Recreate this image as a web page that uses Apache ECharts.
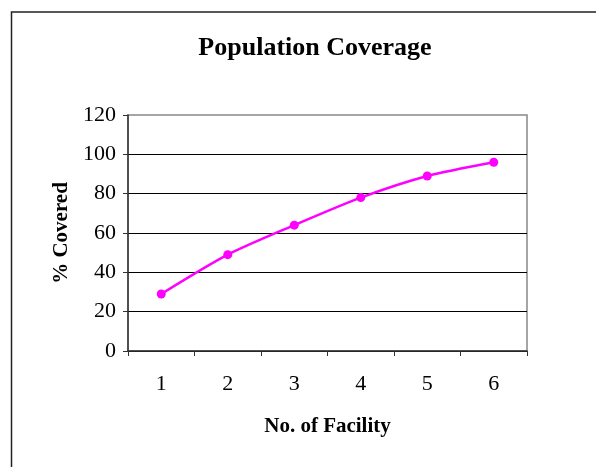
<!DOCTYPE html>
<html>
<head>
<meta charset="utf-8">
<script src="https://cdn.jsdelivr.net/npm/echarts@6/dist/echarts.min.js"></script>
<style>html,body{margin:0;padding:0;background:#fff;}#c{width:596px;height:467px;}</style>
</head>
<body>
<div id="c"></div>
<script>
const categories = ['1', '2', '3', '4', '5', '6'];
const covered = [29, 49, 64, 78, 89, 96];
const titleText = 'Population Coverage';
const xName = 'No. of Facility';
const yName = '% Covered';

const chart = echarts.init(document.getElementById('c'));
const serif = '"Liberation Serif", "Times New Roman", serif';
chart.setOption({
  animation: false,
  backgroundColor: '#fff',
  title: {
    text: titleText, left: 310, textAlign: 'center', top: 30,
    textStyle: { fontFamily: serif, fontWeight: 'bold', fontSize: 26, color: '#000' }
  },
  graphic: [{
    type: 'rect', shape: { x: 11.5, y: 12, width: 700, height: 600 },
    style: { fill: 'none', stroke: '#222', lineWidth: 1.5 }, silent: true
  }],
  grid: { left: 128, right: 69, top: 115, bottom: 116, show: true, borderColor: '#888', borderWidth: 1.5, backgroundColor: '#fff' },
  xAxis: {
    type: 'category', data: categories, boundaryGap: true,
    name: xName, nameLocation: 'middle', nameGap: 65,
    nameTextStyle: { fontFamily: serif, fontWeight: 'bold', fontSize: 21, color: '#000' },
    axisLine: { lineStyle: { color: '#333', width: 1.5 } },
    axisTick: { show: true, length: 5, inside: false, lineStyle: { color: '#333' } },
    axisLabel: { fontFamily: serif, fontSize: 22, color: '#000', margin: 22 },
    splitLine: { show: false }
  },
  yAxis: {
    type: 'value', min: 0, max: 120, interval: 20,
    name: yName, nameLocation: 'middle', nameGap: 55, nameRotate: 90,
    nameTextStyle: { fontFamily: serif, fontWeight: 'bold', fontSize: 21, color: '#000' },
    axisLine: { show: true, lineStyle: { color: '#333', width: 1.5 } },
    axisTick: { show: true, length: 5, lineStyle: { color: '#333' } },
    axisLabel: { fontFamily: serif, fontSize: 22, color: '#000', margin: 12 },
    splitLine: { show: true, showMaxLine: false, lineStyle: { color: '#000', width: 1 } }
  },
  series: [{
    type: 'line', data: covered, smooth: 0.25,
    symbol: 'circle', symbolSize: 9,
    itemStyle: { color: '#ff00ff' },
    lineStyle: { color: '#ff00ff', width: 2.5 }
  }]
});
</script>
</body>
</html>
